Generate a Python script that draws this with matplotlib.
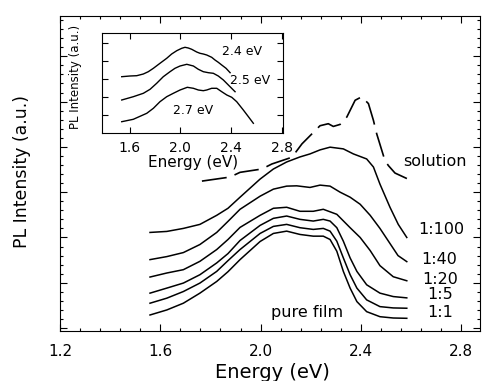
import numpy as np
import matplotlib.pyplot as plt
from matplotlib.ticker import FixedLocator, MultipleLocator

# ---- main panel data (energy in eV, PL intensity in a.u.) ----
film_labels = ["1:100", "1:40", "1:20", "1:5", "1:1", "pure film"]

e_100 = [1.559, 1.626, 1.692, 1.758, 1.825, 1.870, 1.918, 1.958, 1.998, 2.051,
         2.104, 2.157, 2.197, 2.237, 2.277, 2.330, 2.370, 2.423, 2.450, 2.476,
         2.516, 2.549, 2.583]
i_100 = [98, 99, 102, 106, 115, 122, 133, 142, 151, 161, 168, 173, 176, 180,
         182.7, 181, 176, 171, 163, 146, 123, 106, 93]

e_40 = [1.559, 1.626, 1.692, 1.758, 1.825, 1.870, 1.918, 1.998, 2.051, 2.104,
        2.144, 2.197, 2.237, 2.277, 2.317, 2.357, 2.397, 2.437, 2.476, 2.516,
        2.548, 2.583]
i_40 = [71, 74, 78, 86, 98, 109, 121, 134, 141, 144, 144.3, 142.7, 145, 144,
        138, 133, 126, 115, 102, 87, 75, 69]

e_20 = [1.559, 1.626, 1.692, 1.758, 1.825, 1.870, 1.918, 1.998, 2.051, 2.104,
        2.157, 2.210, 2.250, 2.304, 2.357, 2.397, 2.437, 2.476, 2.529, 2.583]
i_20 = [53.7, 57.7, 61, 69.3, 81, 91, 103, 115, 122, 123, 119, 119, 121, 116,
        102.7, 93, 80, 65, 54, 50]

e_film = [1.559, 1.626, 1.692, 1.758, 1.825, 1.870, 1.918, 1.998, 2.051, 2.104,
          2.157, 2.210, 2.250, 2.277, 2.304, 2.330, 2.357, 2.384, 2.423, 2.476,
          2.529, 2.583]
i_5 = [37.7, 42.7, 47.7, 56, 67.7, 77, 90, 105, 112, 114.3, 111, 109.3, 111,
       109.3, 102.7, 89.3, 72.7, 59.3, 46, 37.7, 34.3, 33]
i_1 = [27.7, 32.7, 39.3, 47.7, 59.3, 70, 81, 97, 104, 106, 102.7, 101, 102,
       99.3, 89.3, 72.7, 56, 42.7, 31, 24.3, 23, 22.7]
i_pure = [16, 21, 27.7, 37.7, 49.3, 59, 71, 89, 97, 99.3, 96, 94.3, 94.3, 91,
          79.3, 59.3, 42.7, 29.3, 19.3, 14.3, 13, 12.7]

e_sol = [1.766, 1.878, 1.918, 2.005, 2.045, 2.125, 2.165, 2.197, 2.237, 2.270,
         2.290, 2.317, 2.344, 2.377, 2.403, 2.430, 2.450, 2.463, 2.496, 2.510,
         2.536, 2.588]
i_sol = [149, 153, 157.7, 161, 166, 172.7, 186, 194, 204, 206, 203.3, 205.3,
         212.7, 229.3, 232.7, 226, 209.3, 196, 169.3, 164.3, 157, 151]

# ---- inset data: different excitation energies ----
exc_labels = ["2.4 eV", "2.5 eV", "2.7 eV"]
e_in_24 = [1.538, 1.603, 1.656, 1.708, 1.747, 1.787, 1.839, 1.892, 1.931,
           1.971, 2.010, 2.036, 2.062, 2.089, 2.128, 2.154, 2.180, 2.207,
           2.246, 2.272, 2.298, 2.325, 2.359, 2.391]
i_in_24 = [56.3, 57, 57.3, 59, 61.3, 64.7, 69.7, 74.7, 79, 82.3, 84.7, 85.7,
           85, 83.7, 81, 79.7, 79, 78, 75.7, 73, 70.7, 68, 64.7, 60.3]
e_in_25 = [1.538, 1.629, 1.708, 1.761, 1.813, 1.865, 1.918, 1.957, 1.997,
           2.050, 2.102, 2.141, 2.180, 2.220, 2.259, 2.298, 2.338, 2.385, 2.430]
i_in_25 = [33, 36.3, 39.7, 43.7, 49.7, 56.3, 61.3, 64.7, 67, 68.7, 67, 63.7,
           61.3, 60.3, 59.7, 57, 53, 47, 41.3]
e_in_27 = [1.538, 1.629, 1.735, 1.787, 1.839, 1.892, 1.944, 1.997, 2.054,
           2.102, 2.141, 2.180, 2.207, 2.246, 2.286, 2.325, 2.365, 2.404,
           2.443, 2.495, 2.535, 2.574]
i_in_27 = [11.3, 13.7, 19.7, 24.7, 31.3, 36.3, 39.7, 43, 45.7, 44.7, 43, 42.3,
           43, 44.7, 44.7, 41.3, 38, 35.7, 31.3, 23, 16.3, 9.7]

plt.rcParams["font.family"] = "DejaVu Sans"

fig = plt.figure(figsize=(4.85, 3.81), dpi=100)
ax = fig.add_axes([0.1237, 0.131, 0.866, 0.827])

lw = 1.1
for e, i in [(e_100, i_100), (e_40, i_40), (e_20, i_20),
             (e_film, i_5), (e_film, i_1), (e_film, i_pure)]:
    ax.plot(e, i, color="black", lw=lw, solid_joinstyle="round")
ax.plot(e_sol, i_sol, color="black", lw=1.2, dashes=(15, 5))

ax.set_xlim(1.2, 2.875)
ax.set_ylim(0, 313)
ax.xaxis.set_major_locator(FixedLocator([1.2, 1.6, 2.0, 2.4, 2.8]))
ax.xaxis.set_minor_locator(MultipleLocator(0.08))
ax.yaxis.set_major_locator(FixedLocator(np.arange(3, 313, 45)))
ax.yaxis.set_minor_locator(FixedLocator(np.arange(3, 313, 9)))
ax.tick_params(which="both", direction="in", top=True, right=True, width=0.8)
ax.tick_params(which="major", length=5)
ax.tick_params(which="minor", length=2.5)
ax.tick_params(axis="x", labelsize=11, pad=9)
ax.tick_params(axis="y", labelleft=False)
ax.set_xticklabels(["1.2", "1.6", "2.0", "2.4", "2.8"])

fig.text(272 / 485, 1 - 372 / 381, "Energy (eV)", fontsize=14,
         ha="center", va="center")
fig.text(22 / 485, 1 - 172 / 381, "PL Intensity (a.u.)", fontsize=12.5,
         rotation=90, ha="center", va="center")

lab_fs = 11.5
ax.text(2.696, 168, "solution", fontsize=lab_fs, ha="center", va="center")
label_pos = [(2.628, 101), (2.640, 71), (2.644, 51), (2.664, 36), (2.664, 18)]
for name, (x, y) in zip(film_labels[:5], label_pos):
    ax.text(x, y, name, fontsize=lab_fs, ha="left", va="center")
ax.text(2.185, 18, film_labels[5], fontsize=lab_fs, ha="center", va="center")

# ---- inset ----
axin = fig.add_axes([102.3 / 485, 1 - 133 / 381, 180.4 / 485, 100 / 381])
for e, i in [(e_in_24, i_in_24), (e_in_25, i_in_25), (e_in_27, i_in_27)]:
    axin.plot(e, i, color="black", lw=1.0, solid_joinstyle="round")
axin.set_xlim(1.385, 2.805)
axin.set_ylim(0, 100)
axin.xaxis.set_major_locator(FixedLocator([1.6, 2.0, 2.4, 2.8]))
axin.yaxis.set_major_locator(FixedLocator(np.arange(18, 100, 18)))
axin.tick_params(direction="in", top=True, right=True, length=4, width=0.8)
axin.tick_params(axis="x", labelsize=10, pad=6)
axin.tick_params(axis="y", labelleft=False)
axin.set_xticklabels(["1.6", "2.0", "2.4", "2.8"])

axin.text(2.483, 81.3, exc_labels[0], fontsize=9, ha="center", va="center")
axin.text(2.552, 53, exc_labels[1], fontsize=9, ha="center", va="center")
axin.text(2.102, 23, exc_labels[2], fontsize=9, ha="center", va="center")

fig.text(193 / 485, 1 - 162 / 381, "Energy (eV)", fontsize=11,
         ha="center", va="center")
fig.text(76 / 485, 1 - 77 / 381, "PL Intensity (a.u.)", fontsize=8.5,
         rotation=90, ha="center", va="center")

fig.savefig("out.png", dpi=100)
